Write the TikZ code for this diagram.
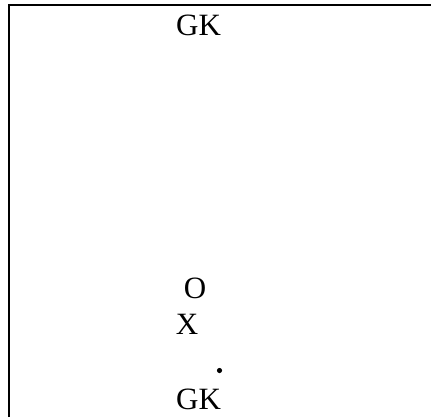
\documentclass[tikz,border=0pt]{standalone}
\usepackage{fontspec}
\setmainfont{Liberation Serif}
\usepackage{tikz}
\usetikzlibrary{positioning, calc}

\begin{document}
\begin{tikzpicture}[x=0.5pt, y=-0.5pt,
  lbl/.style={inner sep=0pt, font=\fontsize{15.5}{18}\selectfont}]
  \useasboundingbox (0,0) rectangle (431,417);
  \draw [line width=1.4pt] (9,417) -- (9,5) -- (431,5);

  \node (GKa) [lbl] at (198.5,25.5) {GK};
  \node (O) [lbl] at (195,288) {O};
  \node (X) [lbl] at (187,324) {X};
  \node (P) [circle, fill=black, inner sep=0pt, minimum size=2.6pt] at (219.5,370.5) {};
  \node (GKb) [lbl] at (198.5,399) {GK};
\end{tikzpicture}
\end{document}
